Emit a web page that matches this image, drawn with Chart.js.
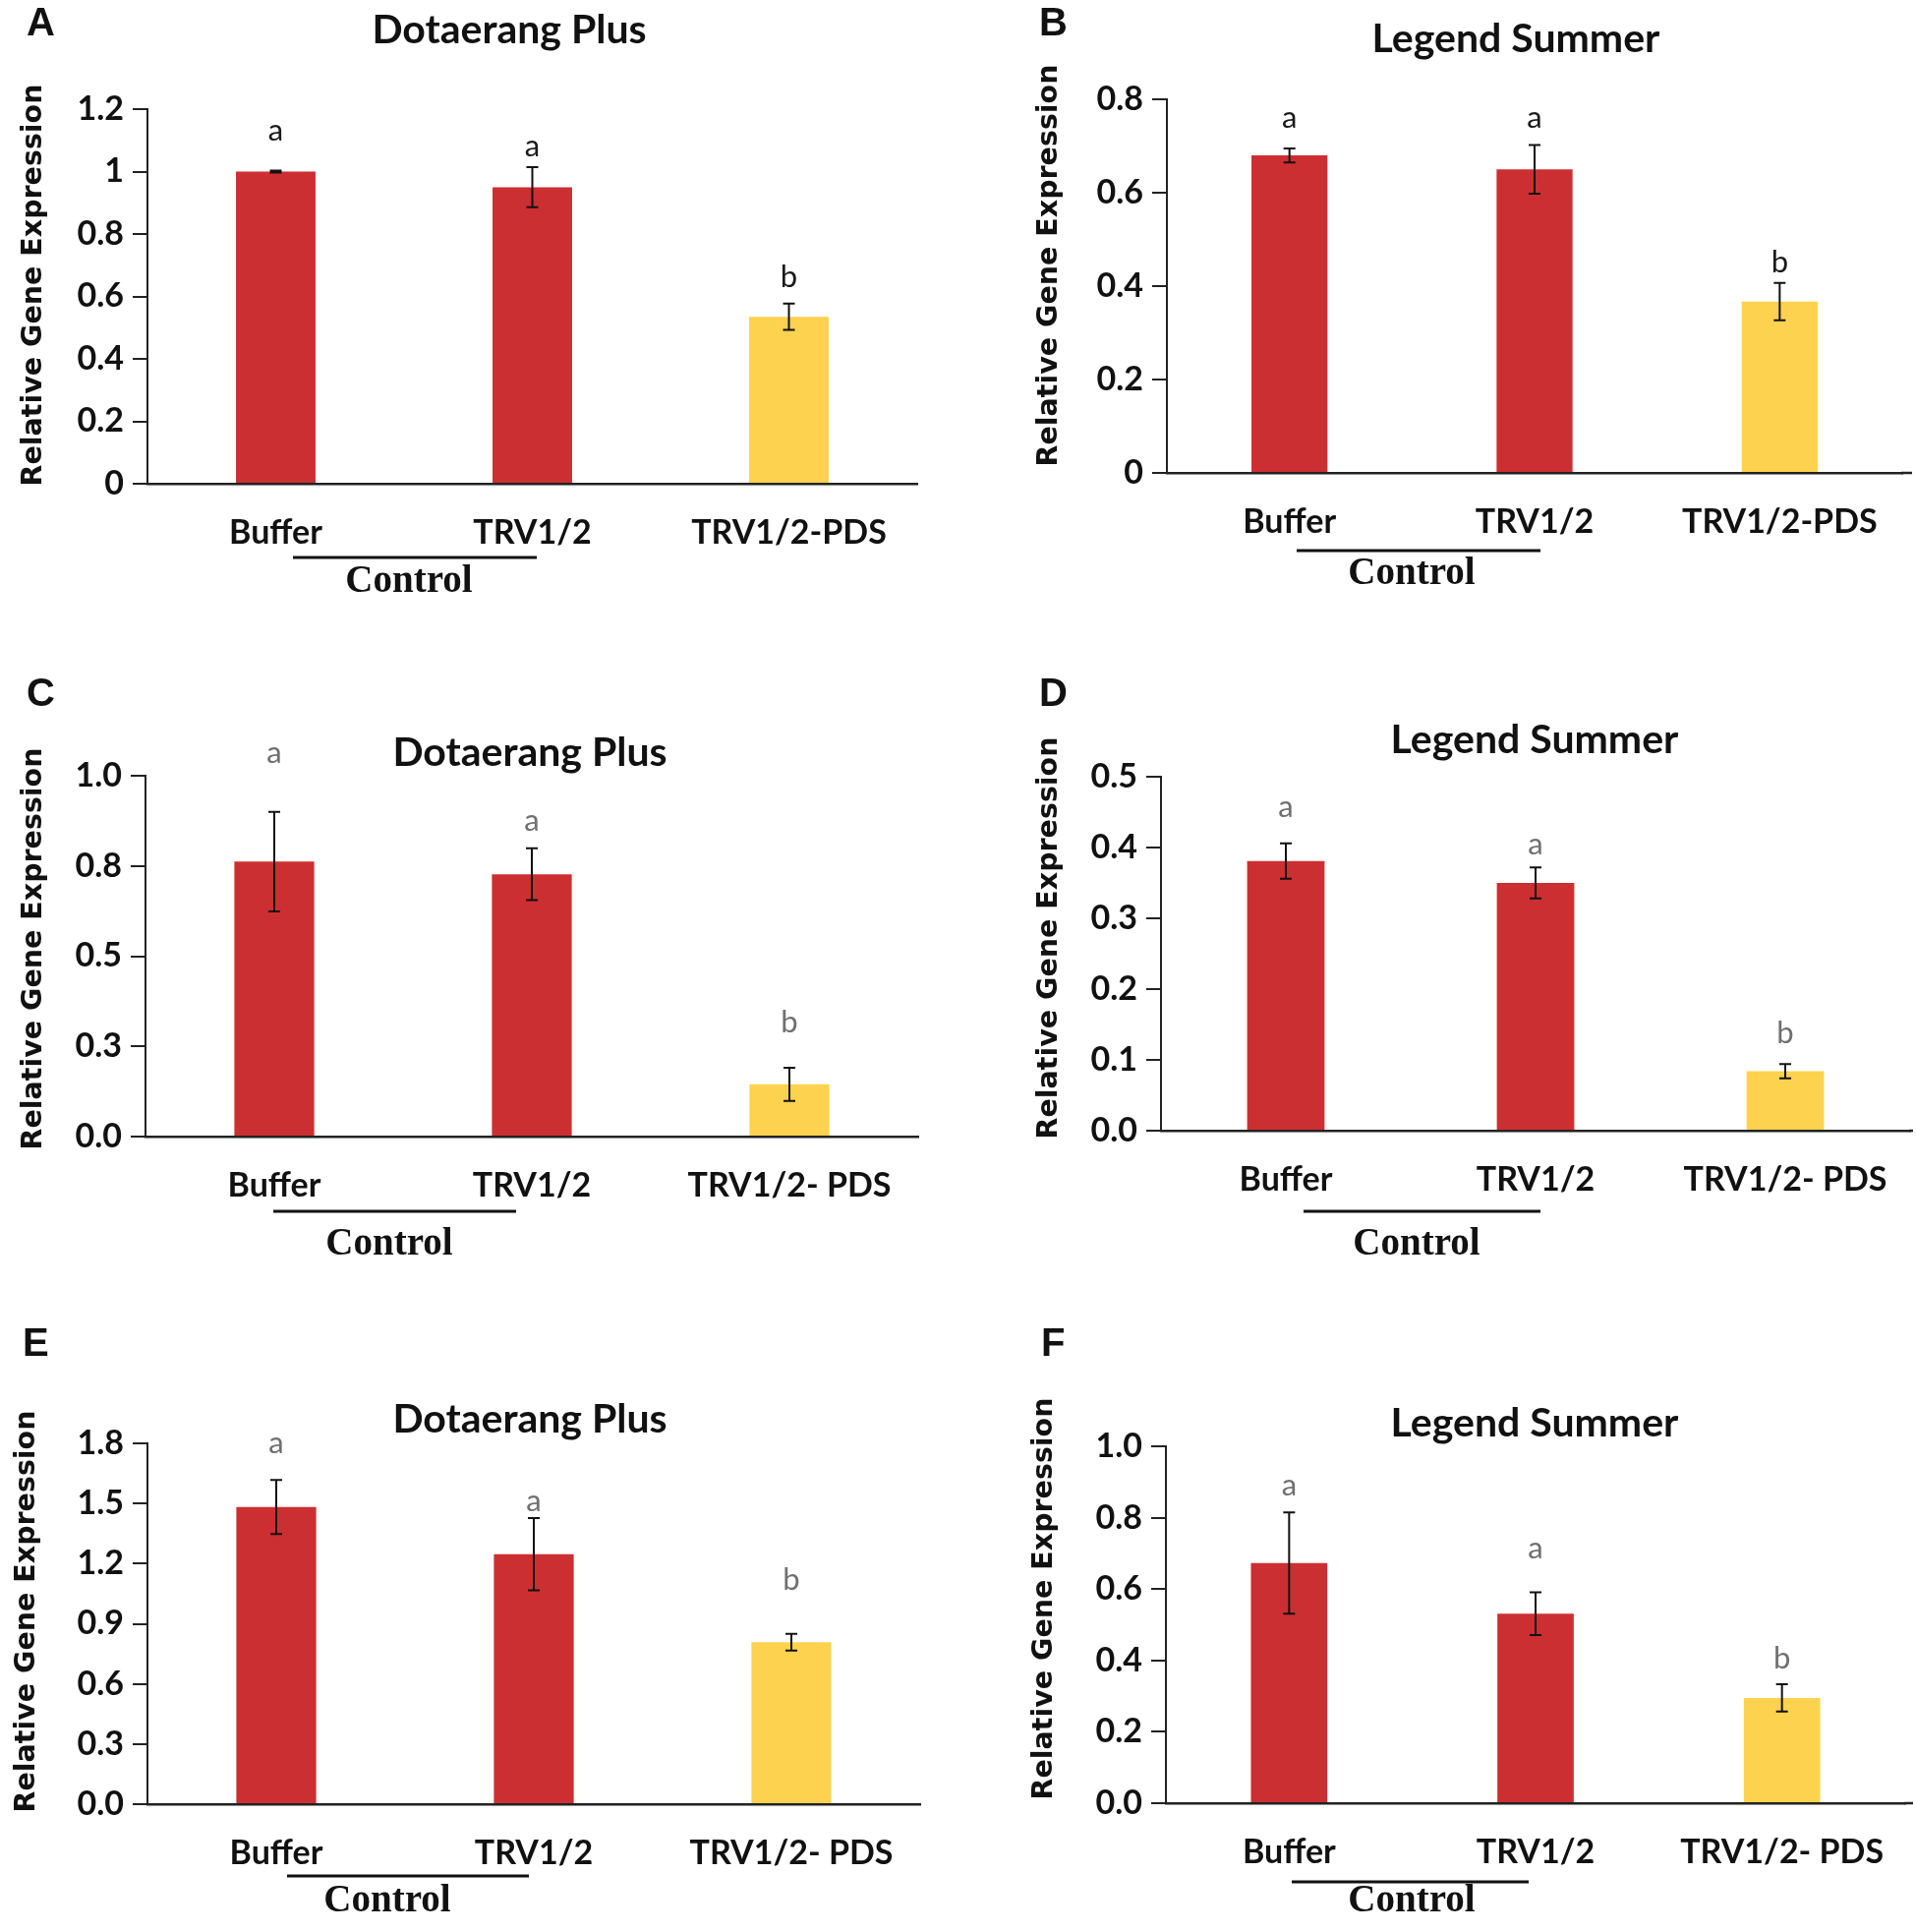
<!DOCTYPE html>
<html>
<head>
<meta charset="utf-8">
<script src="https://cdn.jsdelivr.net/npm/chart.js@4.4.1/dist/chart.umd.min.js"></script>
<style>
  body { margin: 0; background: #fff; width: 1949px; height: 1965px; position: relative; overflow: hidden; }
  canvas { position: absolute; }
</style>
</head>
<body>
<canvas id="chartA"></canvas>
<canvas id="chartB"></canvas>
<canvas id="chartC"></canvas>
<canvas id="chartD"></canvas>
<canvas id="chartE"></canvas>
<canvas id="chartF"></canvas>
<script>
// categories
const categoriesTop = ['Buffer', 'TRV1/2', 'TRV1/2-PDS'];
const categoriesLow = ['Buffer', 'TRV1/2', 'TRV1/2- PDS'];
const sigLetters = ['a', 'a', 'b'];

// A - Dotaerang Plus
const valuesA = [1.0, 0.95, 0.535];
const errorsA = [0.003, 0.064, 0.042];
const letterAtA = [1.13, 1.08, 0.66];
const ticksA = [0, 0.2, 0.4, 0.6, 0.8, 1.0, 1.2];
const tickLabelsA = ['0', '0.2', '0.4', '0.6', '0.8', '1', '1.2'];

// B - Legend Summer
const valuesB = [0.68, 0.65, 0.367];
const errorsB = [0.015, 0.052, 0.04];
const letterAtB = [0.76, 0.76, 0.45];
const ticksB = [0, 0.2, 0.4, 0.6, 0.8];
const tickLabelsB = ['0', '0.2', '0.4', '0.6', '0.8'];

// C - Dotaerang Plus
const valuesC = [0.762, 0.727, 0.145];
const errorsC = [0.138, 0.072, 0.046];
const letterAtC = [1.063, 0.876, 0.316];
const ticksC = [0, 0.25, 0.5, 0.75, 1.0];
const tickLabelsC = ['0.0', '0.3', '0.5', '0.8', '1.0'];

// D - Legend Summer
const valuesD = [0.381, 0.35, 0.084];
const errorsD = [0.025, 0.022, 0.01];
const letterAtD = [0.457, 0.404, 0.138];
const ticksD = [0, 0.1, 0.2, 0.3, 0.4, 0.5];
const tickLabelsD = ['0.0', '0.1', '0.2', '0.3', '0.4', '0.5'];

// E - Dotaerang Plus
const valuesE = [1.482, 1.247, 0.808];
const errorsE = [0.135, 0.18, 0.042];
const letterAtE = [1.80, 1.51, 1.12];
const ticksE = [0, 0.3, 0.6, 0.9, 1.2, 1.5, 1.8];
const tickLabelsE = ['0.0', '0.3', '0.6', '0.9', '1.2', '1.5', '1.8'];

// F - Legend Summer
const valuesF = [0.673, 0.531, 0.295];
const errorsF = [0.142, 0.06, 0.038];
const letterAtF = [0.89, 0.713, 0.406];
const ticksF = [0, 0.2, 0.4, 0.6, 0.8, 1.0];
const tickLabelsF = ['0.0', '0.2', '0.4', '0.6', '0.8', '1.0'];

const red = '#cc2f31';
const yellow = '#fdd24e';
const barColors = [red, red, yellow];

const panels = [
    { id: 'chartA', tag: 'A', title: 'Dotaerang Plus', labels: categoriesTop, values: valuesA, errors: errorsA,
      letterAt: letterAtA, ticks: ticksA, tickLabels: tickLabelsA, letterColor: '#1a1a1a',
      box: { x: 0, y: 0, w: 975, h: 640 }, plot: { left: 150, top: 111, right: 933, bottom: 492 }, axisEnd: 933,
      titlePos: [518, 31], tagPos: [27, 25], yTitlePos: [35, 290], control: [298, 546, 567, 416, 592] },
    { id: 'chartB', tag: 'B', title: 'Legend Summer', labels: categoriesTop, values: valuesB, errors: errorsB,
      letterAt: letterAtB, ticks: ticksB, tickLabels: tickLabelsB, letterColor: '#1a1a1a',
      box: { x: 975, y: 0, w: 974, h: 640 }, plot: { left: 1187, top: 101, right: 1935, bottom: 481 }, axisEnd: 1945,
      titlePos: [1542, 40], tagPos: [1057, 25], yTitlePos: [1068, 270], control: [1319, 1567, 560, 1436, 584] },
    { id: 'chartC', tag: 'C', title: 'Dotaerang Plus', labels: categoriesLow, values: valuesC, errors: errorsC,
      letterAt: letterAtC, ticks: ticksC, tickLabels: tickLabelsC, letterColor: '#707070',
      box: { x: 0, y: 660, w: 975, h: 650 }, plot: { left: 148, top: 789, right: 934, bottom: 1156 }, axisEnd: 934,
      titlePos: [539, 766], tagPos: [27, 707], yTitlePos: [35, 965], control: [278, 525, 1232, 396, 1266] },
    { id: 'chartD', tag: 'D', title: 'Legend Summer', labels: categoriesLow, values: valuesD, errors: errorsD,
      letterAt: letterAtD, ticks: ticksD, tickLabels: tickLabelsD, letterColor: '#707070',
      box: { x: 975, y: 660, w: 974, h: 650 }, plot: { left: 1181, top: 790, right: 1943, bottom: 1150 }, axisEnd: 1946,
      titlePos: [1561, 753], tagPos: [1057, 707], yTitlePos: [1068, 954], control: [1326, 1567, 1232, 1441, 1266] },
    { id: 'chartE', tag: 'E', title: 'Dotaerang Plus', labels: categoriesLow, values: valuesE, errors: errorsE,
      letterAt: letterAtE, ticks: ticksE, tickLabels: tickLabelsE, letterColor: '#707070',
      box: { x: 0, y: 1320, w: 975, h: 645 }, plot: { left: 150, top: 1468, right: 936, bottom: 1835 }, axisEnd: 936,
      titlePos: [539, 1444], tagPos: [23, 1368], yTitlePos: [28, 1639], control: [292, 538, 1908, 394, 1934] },
    { id: 'chartF', tag: 'F', title: 'Legend Summer', labels: categoriesLow, values: valuesF, errors: errorsF,
      letterAt: letterAtF, ticks: ticksF, tickLabels: tickLabelsF, letterColor: '#707070',
      box: { x: 975, y: 1320, w: 974, h: 645 }, plot: { left: 1186, top: 1471, right: 1938, bottom: 1834 }, axisEnd: 1946,
      titlePos: [1561, 1448], tagPos: [1059, 1368], yTitlePos: [1063, 1626], control: [1314, 1555, 1914, 1436, 1934] }
];

const panelById = {};
panels.forEach(p => { panelById[p.id] = p; });

// error bars, letters, titles and the "Control" bracket
const decorations = {
    id: 'decorations',
    afterDatasetsDraw(chart) {
        const p = panelById[chart.canvas.id];
        const ctx = chart.ctx;
        const yScale = chart.scales.y;
        const bars = chart.getDatasetMeta(0).data;
        ctx.save();
        ctx.strokeStyle = '#111';
        ctx.lineWidth = 2;
        bars.forEach((bar, i) => {
            const hi = yScale.getPixelForValue(p.values[i] + p.errors[i]);
            const lo = yScale.getPixelForValue(p.values[i] - p.errors[i]);
            ctx.beginPath();
            ctx.moveTo(bar.x, hi);
            ctx.lineTo(bar.x, lo);
            ctx.moveTo(bar.x - 6, hi);
            ctx.lineTo(bar.x + 6, hi);
            ctx.moveTo(bar.x - 6, lo);
            ctx.lineTo(bar.x + 6, lo);
            ctx.stroke();
        });
        ctx.fillStyle = p.letterColor;
        ctx.font = '31px Lato';
        ctx.textAlign = 'center';
        ctx.textBaseline = 'middle';
        bars.forEach((bar, i) => {
            ctx.fillText(sigLetters[i], bar.x, yScale.getPixelForValue(p.letterAt[i]));
        });
        ctx.restore();
    },
    afterDraw(chart) {
        const p = panelById[chart.canvas.id];
        const ctx = chart.ctx;
        const ox = p.box.x, oy = p.box.y;
        const area = chart.chartArea;
        ctx.save();
        // axis line runs a bit past the last category on some panels
        if (p.axisEnd > p.plot.right) {
            ctx.strokeStyle = '#222';
            ctx.lineWidth = 2.5;
            ctx.beginPath();
            ctx.moveTo(area.right - 1, area.bottom);
            ctx.lineTo(p.axisEnd - ox, area.bottom);
            ctx.stroke();
        }
        ctx.fillStyle = '#111';
        ctx.textAlign = 'center';
        ctx.textBaseline = 'middle';
        ctx.font = 'bold 41px Lato';
        ctx.fillText(p.title, p.titlePos[0] - ox, p.titlePos[1] - oy);

        ctx.textAlign = 'left';
        ctx.font = 'bold 40px "Liberation Sans"';
        ctx.fillText(p.tag, p.tagPos[0] - ox, p.tagPos[1] - oy);

        ctx.save();
        ctx.translate(p.yTitlePos[0] - ox, p.yTitlePos[1] - oy);
        ctx.rotate(-Math.PI / 2);
        ctx.textAlign = 'center';
        ctx.font = 'bold 28.5px "DejaVu Sans"';
        ctx.fillText('Relative Gene Expression', 0, 0);
        ctx.restore();

        const [x1, x2, ly, tx, ty] = p.control;
        ctx.strokeStyle = '#111';
        ctx.lineWidth = 3;
        ctx.beginPath();
        ctx.moveTo(x1 - ox, ly - oy);
        ctx.lineTo(x2 - ox, ly - oy);
        ctx.stroke();
        ctx.textAlign = 'center';
        ctx.font = 'bold 39px "Liberation Serif"';
        ctx.fillText('Control', tx - ox, ty - oy);
        ctx.restore();
    }
};

function makeChart(p) {
    const canvas = document.getElementById(p.id);
    canvas.width = p.box.w;
    canvas.height = p.box.h;
    canvas.style.left = p.box.x + 'px';
    canvas.style.top = p.box.y + 'px';
    return new Chart(canvas.getContext('2d'), {
        type: 'bar',
        data: {
            labels: p.labels,
            datasets: [{
                data: p.values,
                backgroundColor: barColors,
                borderWidth: 0,
                barPercentage: 0.31,
                categoryPercentage: 1.0
            }]
        },
        options: {
            responsive: false,
            animation: false,
            devicePixelRatio: 1,
            layout: {
                padding: {
                    left: 0,
                    top: p.plot.top - p.box.y,
                    right: p.box.x + p.box.w - p.plot.right,
                    bottom: 0
                }
            },
            plugins: {
                legend: { display: false },
                tooltip: { enabled: false }
            },
            scales: {
                x: {
                    grid: { display: false },
                    border: { color: '#222', width: 2.5 },
                    ticks: {
                        color: '#111',
                        font: { family: 'Lato', weight: 'bold', size: 34 },
                        padding: 22,
                        maxRotation: 0,
                        autoSkip: false
                    },
                    afterFit: s => { s.height = p.box.y + p.box.h - p.plot.bottom; }
                },
                y: {
                    min: p.ticks[0],
                    max: p.ticks[p.ticks.length - 1],
                    afterBuildTicks: s => { s.ticks = p.ticks.map(v => ({ value: v })); },
                    ticks: {
                        callback: (v, i) => p.tickLabels[i],
                        color: '#111',
                        font: { family: 'Lato', weight: 'bold', size: 34 },
                        padding: 9
                    },
                    grid: { drawOnChartArea: false, tickLength: 15, color: '#222', lineWidth: 2 },
                    border: { color: '#222', width: 2 },
                    afterFit: s => { s.width = p.plot.left - p.box.x; }
                }
            }
        },
        plugins: [decorations]
    });
}

panels.forEach(makeChart);
</script>
</body>
</html>
